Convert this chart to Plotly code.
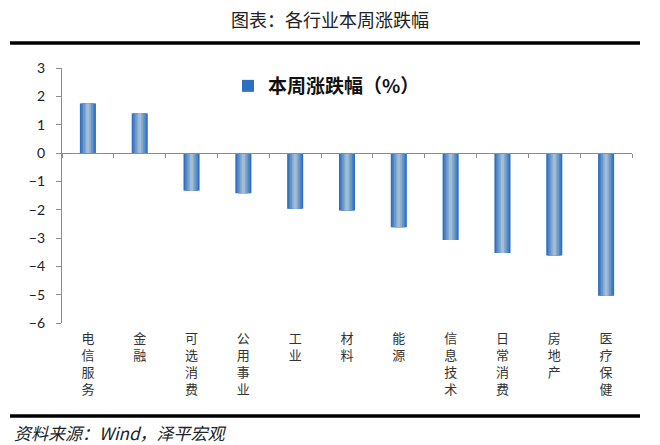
import plotly.graph_objects as go

categories = ["电信服务", "金融", "可选消费", "公用事业", "工业", "材料", "能源",
              "信息技术", "日常消费", "房地产", "医疗保健"]
values = [1.75, 1.40, -1.33, -1.42, -1.97, -2.03, -2.62, -3.07, -3.53, -3.62, -5.04]
series_name = "本周涨跌幅（%）"
y_ticks = [3, 2, 1, 0, -1, -2, -3, -4, -5, -6]
title_text = "图表：各行业本周涨跌幅"
source_text = "资料来源：Wind，泽平宏观"

tick_text = ["<br>".join(list(c)) for c in categories]

# gradient emulation layers (style only)
layers = [(0.31, "#2f6fc2"), (0.25, "#4a82c7"), (0.19, "#6897ca"),
          (0.12, "#86aace"), (0.06, "#a3bdd4")]

# page has an 8px body margin: compensate so plot sits where the reference does
OFF = 8
W, H = 660 - OFF, 445 - OFF
L, R, T, B = 62 - OFF, 28, 68 - OFF, 122
PW, PH = W - L - R, H - T - B  # 570 x 255


def px_x(px):
    return (px - 62) / PW


def px_y(py):
    return (323 - py) / PH


fig = go.Figure()
for i, (w, col) in enumerate(layers):
    fig.add_trace(go.Bar(
        x=categories, y=values, width=w, name=series_name,
        marker=dict(color=col, line=dict(width=0)),
        showlegend=(i == 0), hoverinfo="skip", xaxis="x", yaxis="y"))

# invisible helper trace to carry categories on the zero-line axis
fig.add_trace(go.Scatter(x=categories, y=values, mode="markers",
                         marker=dict(opacity=0), showlegend=False,
                         hoverinfo="skip", xaxis="x2", yaxis="y"))

fig.update_layout(
    width=W, height=H,
    margin=dict(l=L, r=R, t=T, b=B),
    paper_bgcolor="white", plot_bgcolor="white",
    barmode="overlay",
    showlegend=True,
    legend=dict(x=px_x(228), y=px_y(86), xanchor="left", yanchor="middle",
                font=dict(family="Noto Sans CJK SC", size=19, color="#111",
                          weight="bold"),
                bgcolor="rgba(0,0,0,0)", itemwidth=30),
    xaxis=dict(type="category", categoryorder="array", categoryarray=categories,
               range=[-0.5, 10.5], tickvals=categories, ticktext=tick_text,
               showline=False, ticks="", showgrid=False, zeroline=False,
               tickfont=dict(family="Noto Sans CJK SC", size=13, color="#333"),
               ticklabelstandoff=6),
    xaxis2=dict(type="category", categoryorder="array", categoryarray=categories,
                range=[-0.5, 10.5], overlaying="x", anchor="free", position=6/9,
                side="bottom", showline=True, linecolor="#8c8c8c", linewidth=1.2,
                ticks="outside", tickson="boundaries", ticklen=4, tickcolor="#8c8c8c",
                showticklabels=False, showgrid=False, zeroline=False),
    yaxis=dict(range=[-6, 3], tickvals=y_ticks, showline=True, linecolor="#8c8c8c",
               linewidth=1.2, ticks="outside", ticklen=5, tickcolor="#8c8c8c",
               showgrid=False, zeroline=False,
               tickfont=dict(family="Lato", size=14, color="#222"),
               ticklabelstandoff=8),
    shapes=[
        dict(type="line", xref="paper", yref="paper", x0=px_x(10), x1=px_x(640),
             y0=px_y(43), y1=px_y(43), line=dict(color="black", width=3.5)),
        dict(type="line", xref="paper", yref="paper", x0=px_x(10), x1=px_x(640),
             y0=px_y(416), y1=px_y(416), line=dict(color="black", width=3.5)),
    ],
    annotations=[
        dict(text=title_text, xref="paper", yref="paper", x=px_x(330),
             y=px_y(19), xanchor="center", yanchor="middle", showarrow=False,
             font=dict(family="Noto Sans CJK SC", size=18, color="#222")),
        dict(text="<i>" + source_text + "</i>", xref="paper", yref="paper",
             x=px_x(12), y=px_y(432), xanchor="left",
             yanchor="middle", showarrow=False,
             font=dict(family="Noto Sans CJK SC", size=17, color="#222")),
    ],
)

fig.write_html("out.html")
